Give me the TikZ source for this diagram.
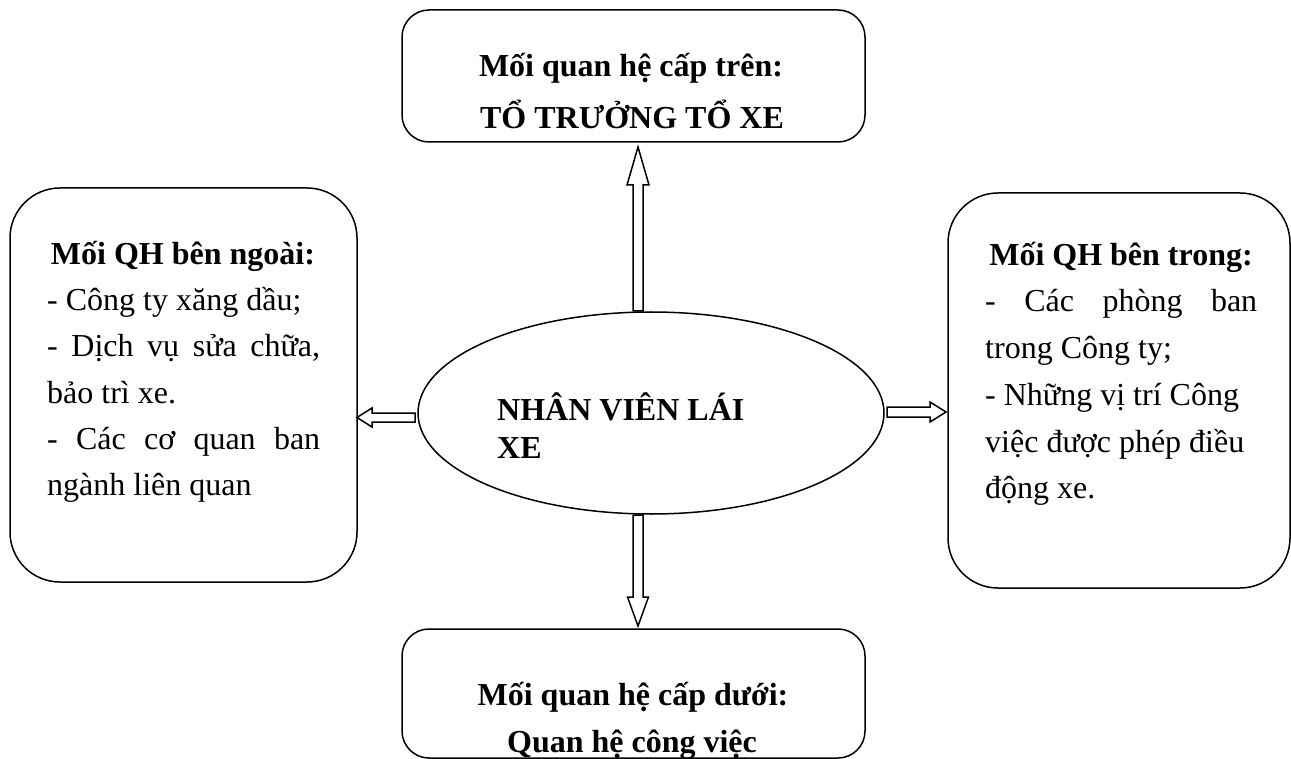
\documentclass[tikz,border=0pt]{standalone}
\usepackage{fontspec}
\setmainfont{Liberation Serif}
\usetikzlibrary{calc,shapes.geometric}
\newcommand\mytxt{\fontsize{32}{46}\selectfont}
\begin{document}
\begin{tikzpicture}[x=1pt,y=-1pt,
  box/.style={draw, line width=1.5pt, inner sep=0pt, rounded corners=#1},
  lbl/.style={inner sep=0pt, font=\mytxt},
  hd/.style={inner sep=0pt, font=\mytxt\bfseries, anchor=base},
  blk/.style={draw, line width=1.5pt, fill=white, line join=miter}]
\useasboundingbox (0,0) rectangle (1291,759);
% boxes
\node[box=27pt, minimum width=463pt, minimum height=132pt] (top) at (633.5,76) {};
\node[box=50pt, minimum width=347pt, minimum height=394pt] (left) at (183.5,385) {};
\node[box=50pt, minimum width=342pt, minimum height=395pt] (right) at (1119,390.5) {};
\node[box=27pt, minimum width=463pt, minimum height=129pt] (bottom) at (633.5,693.5) {};
\node[draw, ellipse, line width=1.5pt, inner sep=0pt, minimum width=466pt, minimum height=202pt] (ell) at (651,413) {};
% top text
\node[hd] (t1) at (631,77) {Mối quan hệ cấp trên:};
\node[hd] (t2) at (632,129) {TỔ TRƯỞNG TỔ XE};
% bottom text
\node[hd] (b1) at (633,705) {Mối quan hệ cấp dưới:};
\node[hd] (b2) at (632,752) {Quan hệ công việc};
% ellipse text
\node[hd, anchor=base west] (e1) at (497,420) {NHÂN VIÊN LÁI};
\node[hd, anchor=base west] (e2) at (497,458) {XE};
% left text
\node[hd] (l0) at (183,265) {Mối QH bên ngoài:};
\node[lbl, anchor=base west] (l1) at (47,311) {- Công ty xăng dầu;};
\node[lbl, anchor=base west] (l2) at (47,357) {\makebox[273pt][s]{- Dịch vụ sửa chữa,}};
\node[lbl, anchor=base west] (l3) at (47,403) {bảo trì xe.};
\node[lbl, anchor=base west] (l4) at (47,449) {\makebox[273pt][s]{- Các cơ quan ban}};
\node[lbl, anchor=base west] (l5) at (47,495) {ngành liên quan};
% right text
\node[hd] (r0) at (1121,266) {Mối QH bên trong:};
\node[lbl, anchor=base west] (r1) at (985,312) {\makebox[272pt][s]{- Các phòng ban}};
\node[lbl, anchor=base west] (r2) at (985,359) {trong Công ty;};
\node[lbl, anchor=base west] (r3) at (985,405) {- Những vị trí Công};
\node[lbl, anchor=base west] (r4) at (985,452) {việc được phép điều};
\node[lbl, anchor=base west] (r5) at (985,498) {động xe.};
% arrows
\coordinate (ua0) at (638,311); \coordinate (ua1) at (638,147);
\draw[blk] ($(ua0)+(-5,0)$) -- ($(ua1)+(-5,38)$) -- ($(ua1)+(-11,38)$) -- (ua1) -- ($(ua1)+(11,38)$) -- ($(ua1)+(5,38)$) -- ($(ua0)+(5,0)$) -- cycle;
\coordinate (da0) at (638,515); \coordinate (da1) at (638,626);
\draw[blk] ($(da0)+(-5,0)$) -- ($(da1)+(-5,-29)$) -- ($(da1)+(-10.5,-29)$) -- (da1) -- ($(da1)+(10.5,-29)$) -- ($(da1)+(5,-29)$) -- ($(da0)+(5,0)$) -- cycle;
\coordinate (la0) at (415,417.5); \coordinate (la1) at (357,417.5);
\draw[blk] ($(la0)+(0,-4.5)$) -- ($(la1)+(15,-4.5)$) -- ($(la1)+(15,-9.5)$) -- (la1) -- ($(la1)+(15,9.5)$) -- ($(la1)+(15,4.5)$) -- ($(la0)+(0,4.5)$) -- cycle;
\coordinate (ra0) at (887,412); \coordinate (ra1) at (946,412);
\draw[blk] ($(ra0)+(0,-5)$) -- ($(ra1)+(-16,-5)$) -- ($(ra1)+(-16,-10)$) -- (ra1) -- ($(ra1)+(-16,10)$) -- ($(ra1)+(-16,5)$) -- ($(ra0)+(0,5)$) -- cycle;
\end{tikzpicture}
\end{document}
